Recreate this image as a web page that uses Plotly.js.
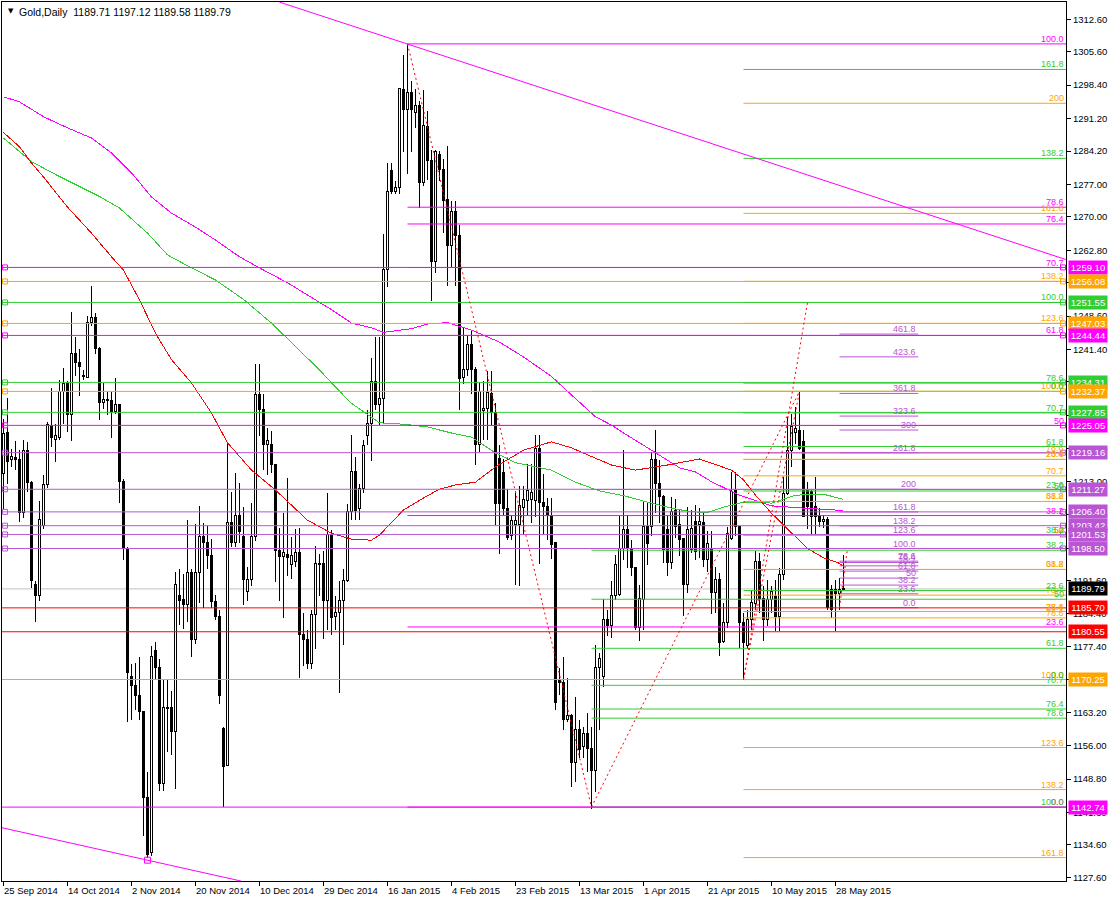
<!DOCTYPE html>
<html><head><meta charset="utf-8">
<script src="https://cdn.plot.ly/plotly-3.0.1.min.js"></script>
<style>html,body{margin:0;padding:0;background:#fff;}#chart{width:1109px;height:899px;}
#chart .scatterlayer path.js-line, #chart .barlayer path{shape-rendering:crispEdges;}
</style>
</head><body><div id="chart"></div>
<script>
// ---------- DATA ----------
const openP = [
1214.7,1223.5,1217.6,1218.1,1217.7,1206.2,1219.7,1212.7,1190.7,1188.4,
1203.4,1212.3,1225.0,1222.0,1222.4,1232.4,1234.0,1227.5,1240.5,1238.5,
1235.8,1235.4,1247.2,1248.2,1241.7,1229.9,1230.6,1230.4,1228.0,1229.5,
1213.0,1198.4,1171.0,1168.9,1166.9,1163.3,1144.8,1132.9,1176.6,1172.9,
1147.9,1164.0,1164.2,1159.0,1188.4,1187.4,1186.4,1193.4,1178.8,1193.4,
1201.1,1199.7,1196.9,1187.0,1183.9,1159.6,1151.7,1204.0,1199.9,1205.6,
1201.1,1189.3,1191.9,1201.1,1231.6,1228.5,1221.0,1221.0,1216.6,1198.1,
1196.8,1197.3,1195.1,1195.7,1197.6,1179.9,1178.9,1173.6,1184.3,1195.3,
1195.2,1187.3,1201.5,1183.9,1184.6,1187.3,1191.7,1206.4,1215.1,1207.2,
1211.4,1222.8,1225.4,1234.6,1229.6,1230.9,1258.7,1280.0,1275.4,1276.4,
1297.4,1293.2,1296.8,1292.6,1294.0,1277.4,1289.4,1282.1,1260.3,1283.4,
1280.3,1273.7,1263.8,1271.1,1265.9,1235.4,1237.2,1242.5,1237.2,1220.9,
1228.2,1228.7,1232.0,1227.8,1217.8,1214.8,1207.2,1201.4,1203.6,1203.6,
1207.4,1208.8,1209.1,1208.8,1220.1,1208.5,1207.5,1205.7,1199.7,1170.2,
1169.7,1161.6,1162.6,1152.3,1159.4,1155.8,1158.6,1155.4,1150.6,1172.8,
1171.0,1183.3,1181.8,1188.3,1188.6,1198.6,1202.5,1198.2,1194.3,1181.4,
1187.5,1203.2,1203.2,1217.6,1212.6,1209.7,1202.5,1195.5,1206.8,1203.6,
1200.7,1190.7,1198.2,1204.3,1203.6,1204.0,1196.1,1198.2,1189.0,1191.8,
1178.5,1182.5,1200.7,1210.9,1203.2,1182.5,1177.5,1183.2,1186.6,1195.7,
1187.8,1183.2,1187.5,1188.2,1183.9,1192.9,1210.4,1219.7,1223.5,1224.0,
1221.5,1211.1,1210.8,1207.5,1205.4,1204.3,1204.8,1189.6,1189.6,1188.9,1189.71];
const highP = [
1226.5,1231.0,1220.0,1221.6,1219.8,1222.0,1221.4,1213.1,1191.6,1208.7,
1214.3,1225.7,1233.2,1225.3,1234.8,1237.4,1234.6,1249.4,1244.2,1241.5,
1236.9,1248.6,1255.0,1249.2,1241.9,1234.2,1232.3,1232.3,1235.3,1229.7,
1213.4,1198.8,1173.6,1173.8,1175.0,1163.5,1150.3,1177.4,1178.3,1174.6,
1170.2,1170.1,1167.7,1193.4,1194.1,1193.0,1204.6,1194.1,1203.8,1207.6,
1204.1,1203.4,1200.5,1188.4,1185.2,1160.0,1221.1,1210.7,1214.7,1212.7,
1207.4,1194.5,1208.3,1238.3,1238.3,1231.8,1224.5,1223.8,1216.8,1203.0,
1206.2,1213.6,1200.9,1202.8,1203.0,1184.6,1181.0,1185.2,1199.0,1197.3,
1198.0,1210.4,1202.5,1188.3,1191.5,1194.1,1208.1,1223.0,1218.3,1212.5,
1222.0,1228.3,1239.6,1244.0,1244.0,1266.3,1281.7,1281.7,1277.7,1297.8,
1305.0,1307.3,1299.2,1297.6,1295.0,1297.4,1292.9,1284.5,1284.4,1284.2,
1282.4,1285.2,1273.5,1273.5,1268.2,1246.1,1244.6,1245.6,1237.7,1234.3,
1234.6,1236.7,1236.7,1229.8,1220.9,1217.7,1211.4,1205.7,1210.4,1212.0,
1212.0,1216.7,1216.7,1223.0,1223.0,1214.6,1209.3,1209.3,1199.9,1172.7,
1175.1,1170.6,1162.8,1166.4,1161.6,1160.0,1163.0,1160.0,1177.7,1176.0,
1187.6,1185.3,1191.4,1197.2,1205.7,1219.7,1205.7,1200.4,1194.6,1190.7,
1208.6,1208.3,1219.4,1224.0,1217.6,1210.0,1205.7,1209.7,1209.1,1206.8,
1200.7,1207.5,1206.8,1207.9,1207.2,1206.1,1202.2,1202.2,1194.6,1193.2,
1186.8,1203.2,1215.0,1215.0,1203.2,1184.6,1185.3,1189.6,1197.9,1197.5,
1190.4,1191.8,1190.4,1191.8,1194.3,1213.9,1226.9,1227.6,1229.0,1232.37,
1224.0,1212.9,1211.1,1213.9,1207.2,1205.7,1205.4,1190.7,1191.8,1192.1,1197.12];
const lowP = [
1207.0,1212.3,1216.0,1215.5,1204.2,1205.0,1210.7,1189.9,1182.7,1187.2,
1202.6,1211.5,1220.4,1217.2,1222.0,1225.3,1223.7,1221.6,1235.8,1231.4,
1234.8,1235.2,1246.4,1240.4,1226.1,1228.5,1227.3,1222.4,1227.5,1208.3,
1196.1,1161.2,1161.6,1163.7,1161.6,1136.5,1131.7,1132.1,1170.4,1146.2,
1146.2,1154.7,1154.0,1146.6,1181.9,1181.1,1182.7,1175.0,1177.9,1186.8,
1185.6,1194.1,1185.6,1183.1,1165.0,1142.7,1151.5,1198.9,1198.9,1199.7,
1186.4,1187.2,1190.4,1200.1,1222.8,1215.5,1214.3,1214.7,1191.3,1187.2,
1183.5,1192.5,1192.0,1194.6,1170.5,1173.1,1172.6,1172.6,1176.8,1188.3,
1178.9,1181.0,1179.9,1181.0,1167.3,1177.8,1191.2,1204.7,1204.7,1204.6,
1210.4,1220.9,1217.4,1228.3,1225.1,1225.6,1254.8,1275.0,1275.0,1275.0,
1284.0,1279.2,1284.0,1289.2,1271.9,1276.6,1277.9,1251.9,1257.9,1277.7,
1266.6,1255.1,1259.3,1255.1,1228.3,1234.0,1235.6,1231.9,1216.5,1219.3,
1222.0,1222.0,1225.1,1203.6,1197.3,1205.7,1200.4,1200.4,1190.6,1190.4,
1201.5,1205.7,1204.1,1205.2,1195.2,1201.5,1200.4,1196.2,1163.6,1167.0,
1159.4,1161.1,1147.1,1148.1,1153.4,1153.4,1150.3,1142.4,1146.1,1159.4,
1168.6,1179.6,1179.3,1187.5,1188.2,1196.1,1194.3,1192.5,1181.0,1178.5,
1181.0,1195.0,1201.1,1206.1,1203.9,1195.4,1192.5,1194.0,1200.7,1196.8,
1183.9,1188.9,1197.5,1196.1,1196.4,1194.6,1193.4,1184.3,1184.6,1175.3,
1178.2,1181.4,1200.4,1201.1,1177.1,1170.25,1176.8,1181.0,1185.3,1184.6,
1178.5,1181.8,1184.6,1180.7,1180.7,1191.8,1210.0,1216.1,1221.1,1219.7,
1205.4,1202.7,1201.5,1201.5,1203.2,1202.9,1185.3,1183.6,1180.7,1185.3,1189.58];
const closeP = [
1223.3,1217.2,1218.4,1217.6,1206.2,1219.7,1212.7,1191.6,1188.4,1204.8,
1212.3,1225.3,1222.4,1222.8,1232.4,1234.0,1227.5,1240.5,1238.5,1237.7,
1235.6,1247.2,1248.2,1241.7,1229.9,1230.7,1230.4,1228.0,1229.5,1212.9,
1198.4,1171.8,1168.9,1166.9,1163.3,1144.8,1132.5,1175.2,1172.9,1147.9,
1164.2,1164.3,1159.0,1190.7,1187.2,1186.4,1193.4,1178.8,1193.4,1201.1,
1199.7,1196.9,1187.0,1183.9,1166.9,1151.5,1204.0,1199.9,1205.6,1202.2,
1191.9,1191.9,1201.1,1231.6,1228.5,1221.0,1221.8,1216.7,1198.1,1196.7,
1197.6,1196.5,1196.9,1197.6,1179.9,1178.9,1173.6,1184.3,1195.2,1195.1,
1187.3,1201.5,1183.6,1184.6,1187.3,1191.7,1206.4,1215.1,1206.7,1211.4,
1220.7,1225.4,1234.6,1229.6,1230.9,1258.7,1275.4,1275.4,1276.4,1297.6,
1293.2,1296.8,1293.2,1294.0,1277.4,1289.7,1282.1,1260.3,1284.2,1280.3,
1273.5,1263.8,1271.1,1265.9,1235.1,1237.2,1242.5,1237.2,1220.9,1232.3,
1228.7,1232.2,1227.8,1208.3,1208.3,1207.2,1200.9,1204.6,1204.6,1207.8,
1209.1,1210.9,1210.6,1220.1,1208.5,1207.5,1205.7,1199.4,1165.2,1169.6,
1161.6,1162.6,1152.3,1159.4,1155.1,1158.6,1155.4,1150.6,1172.8,1174.7,
1183.2,1181.8,1188.3,1195.0,1198.6,1202.5,1198.6,1194.3,1181.4,1187.8,
1203.2,1199.6,1217.6,1212.6,1209.7,1198.2,1195.5,1206.5,1203.2,1200.4,
1190.7,1202.7,1202.9,1197.9,1204.3,1196.1,1199.5,1189.0,1191.8,1178.2,
1182.5,1201.8,1210.8,1203.2,1182.5,1178.2,1183.2,1186.8,1195.7,1187.8,
1183.2,1187.5,1189.3,1183.9,1192.9,1210.4,1219.7,1224.7,1224.3,1220.1,
1205.4,1207.5,1205.4,1205.4,1204.3,1204.8,1185.7,1185.3,1188.9,1189.6,1189.79];

const dateTickIdx = [0,16,32,48,64,80,96,112,128,144,160,176,192,208];
const dateTickText = ['25 Sep 2014','14 Oct 2014','2 Nov 2014','20 Nov 2014','10 Dec 2014','29 Dec 2014',
  '16 Jan 2015','4 Feb 2015','23 Feb 2015','13 Mar 2015','1 Apr 2015','21 Apr 2015','10 May 2015','28 May 2015'];
const priceTicks = [1312.60,1305.60,1298.40,1291.20,1284.20,1277.00,1270.00,1262.80,1255.80,1248.60,1241.40,
  1234.40,1227.20,1220.00,1213.00,1205.80,1198.60,1191.60,1184.40,1177.40,1170.20,1163.20,1156.00,1148.80,
  1141.60,1134.60,1127.60];

// moving averages (bar index, value)
const redMaIdx = [0,4,7,10,16,22,27,30,34,38,42,47,52,56,62,68,76,82,87,92,94,100,105,109,113,118,123,130,137,142,146,152,158,166,174,182,185,188,192,197,201,205,209,210];
const redMaVal = [1288.2,1285.1,1281.6,1278.6,1272.1,1266.5,1261.4,1258.5,1252.1,1244.9,1239.2,1234.2,1227.7,1221.3,1215.4,1211.1,1204.6,1201.8,1200.5,1200.3,1201.4,1206.8,1209.4,1211.3,1212.2,1212.8,1216.1,1219.7,1221.5,1220.2,1218.7,1216.5,1215.4,1216.5,1217.8,1215.4,1213.3,1210.0,1206.1,1202.0,1198.5,1196.5,1195.3,1194.6];
const greenMaIdx = [0,7,14,24,29,36,41,47,53,60,67,74,79,83,87,92,94,100,106,112,117,123,128,137,143,149,155,161,167,172,176,180,185,192,198,205,210];
const greenMaVal = [1287.0,1281.9,1278.7,1274.4,1271.9,1266.5,1261.8,1259.0,1256.4,1252.2,1247.1,1241.3,1237.0,1233.3,1229.8,1226.8,1225.6,1225.3,1224.7,1223.4,1222.5,1219.1,1217.0,1215.4,1212.8,1210.9,1209.9,1208.5,1207.2,1206.4,1206.3,1207.4,1208.5,1208.3,1210.0,1210.2,1209.1];
const magMaIdx = [0,4,10,16,22,27,32,37,42,48,53,59,64,71,78,82,87,92,95,102,106,111,117,124,130,137,142,148,152,155,162,167,169,173,177,184,188,192,200,210];
const magMaVal = [1295.9,1294.8,1291.6,1289.2,1287.0,1283.8,1279.5,1274.3,1270.8,1267.8,1265.0,1261.4,1259.0,1255.8,1252.1,1250.0,1247.1,1246.1,1245.1,1245.9,1246.9,1247.2,1245.6,1243.0,1239.8,1235.6,1231.6,1226.9,1225.1,1223.4,1219.7,1216.9,1215.9,1215.0,1212.9,1210.0,1208.9,1207.7,1207.2,1206.7];

// full-width horizontal lines
const hlinePrices = [1259.10,1256.08,1251.55,1247.03,1244.44,1234.31,1232.37,1227.85,1225.05,1219.16,1211.27,1206.40,1203.42,1201.53,1198.50,1185.70,1180.55,1170.25,1142.74];
const hlineColors = ['#FF00FF','#FFA500','#32CD32','#FFA500','#FF00FF','#32CD32','#FFA500','#32CD32','#FF00FF','#BA55D3','#BA55D3','#BA55D3','#BA55D3','#BA55D3','#BA55D3','#FF0000','#FF0000','#FFA500','#FF00FF'];
const hlineHandles = [1,1,1,1,1,1,1,1,1,1,1,1,1,1,1,0,0,0,0];
const lastPrice = 1189.79;

// Fibonacci sets: level labels and prices
const fibMagStart = 101;
const fibMagLabels = ['100.0','78.6','76.4','70.7','61.8','50','38.2','23.6','0.0'];
const fibMagPrices = [1307.30,1272.08,1268.47,1259.08,1244.44,1225.02,1205.60,1181.58,1142.74];
const fibGreenDStart = 147;
const fibGreenDLabels = ['0.0','23.6','38.2','50','61.8','70.7','76.4','78.6','100.0'];
const fibGreenDPrices = [1232.37,1211.22,1198.13,1187.56,1176.98,1169.00,1163.89,1161.92,1142.74];
const fibOrangeAStart = 185;
const fibOrangeALabels = ['0.0','23.6','38.2','50','61.8','70.7','76.4','78.6','100.0','123.6','138.2','161.8','200'];
const fibOrangeAPrices = [1170.25,1184.91,1193.98,1201.31,1208.64,1214.17,1217.71,1219.08,1232.37,1247.03,1256.10,1270.76,1294.49];
const fibOrangeBStart = 185;
const fibOrangeBLabels = ['0.0','23.6','38.2','50','61.8','70.7','76.4','78.6','100.0','123.6','138.2','161.8'];
const fibOrangeBPrices = [1232.37,1217.71,1208.64,1201.31,1193.98,1188.45,1184.91,1183.54,1170.25,1155.59,1146.52,1131.86];
const fibGreenCStart = 185;
const fibGreenCLabels = ['0.0','23.6','38.2','50','61.8','70.7','78.6','100.0','138.2','161.8'];
const fibGreenCPrices = [1170.25,1189.44,1201.31,1210.90,1220.49,1227.73,1234.15,1251.55,1282.61,1301.79];
const fibOrchidStart = 209, fibOrchidEnd = 228.7;
const fibOrchidLabels = ['0.0','23.6','38.2','50','61.8','70.7','76.4','78.6','100.0','123.6','138.2','161.8','200','261.8','300','323.6','361.8','423.6','461.8'];
const fibOrchidPrices = [1185.73,1188.74,1190.61,1192.12,1193.62,1194.76,1195.49,1195.77,1198.50,1201.51,1203.38,1206.39,1211.27,1219.16,1224.04,1227.05,1231.93,1239.82,1244.73];

// fib anchor (red dashed) lines
const anchorIdx0 = [101,147,185,185,209];
const anchorVal0 = [1307.30,1142.74,1170.25,1170.25,1185.73];
const anchorIdx1 = [147,199,199,201,211];
const anchorVal1 = [1142.74,1232.37,1232.37,1251.55,1198.50];

// magenta trend lines
const trendTopIdx = [69.0,265.6], trendTopVal = [1316.3,1260.8];
const trendBotIdx = [-0.4,59.4], trendBotVal = [1138.3,1126.8];
const trendBotAnchorIdx = [36], trendBotAnchorVal = [1131.3];

// ---------- BUILD ----------
const FONT = 'Liberation Sans, Arial, sans-serif';
const X0 = -0.375, X1 = 265.625;
const C_MAG='#FF00FF', C_ORA='#FFA500', C_GRN='#32CD32', C_ORC='#BA55D3', C_RED='#FF0000';

const wx=[], wy=[];
const upX=[],upB=[],upH=[],dnX=[],dnB=[],dnH=[];
for (let i=0;i<openP.length;i++){
  const o=openP[i],h=highP[i],l=lowP[i],c=closeP[i];
  const lo=Math.min(o,c), hi=Math.max(o,c);
  const hgt=Math.max(hi-lo,0.04);
  if (c>=o){upX.push(i);upB.push(lo);upH.push(hgt);} else {dnX.push(i);dnB.push(lo);dnH.push(hgt);}
  if (h>hi){wx.push(i,i,null);wy.push(hi,h,null);}
  if (l<lo){wx.push(i,i,null);wy.push(l,lo,null);}
}

const traces = [
  {type:'bar',x:upX,y:upH,base:upB,width:0.5,marker:{color:'#ffffff',line:{color:'#000',width:1}},hoverinfo:'skip'},
  {type:'bar',x:dnX,y:dnH,base:dnB,width:0.5,marker:{color:'#000000',line:{color:'#000',width:1}},hoverinfo:'skip'},
  {type:'scatter',mode:'lines',x:wx,y:wy,line:{color:'#000',width:1},hoverinfo:'skip'},
  {type:'scatter',mode:'lines',x:magMaIdx,y:magMaVal,line:{color:C_MAG,width:1},hoverinfo:'skip'},
  {type:'scatter',mode:'lines',x:greenMaIdx,y:greenMaVal,line:{color:C_GRN,width:1},hoverinfo:'skip'},
  {type:'scatter',mode:'lines',x:redMaIdx,y:redMaVal,line:{color:C_RED,width:1},hoverinfo:'skip'}
];

const shapes=[];
function seg(x0,y0,x1,y1,color,dash,layer){
  shapes.push({type:'line',xref:'x',yref:'y',x0:x0,y0:y0,x1:x1,y1:y1,line:{color:color,width:1,dash:dash||'solid'},layer:layer||'above'});
}
seg(X0,lastPrice,X1,lastPrice,'#C0C0C0','solid','below');
function fibSet(start,end,prices,color){ prices.forEach(p=>seg(start,p,end,p,color)); }
fibSet(fibMagStart,X1,fibMagPrices,C_MAG);
fibSet(fibGreenDStart,X1,fibGreenDPrices,C_GRN);
fibSet(fibGreenCStart,X1,fibGreenCPrices,C_GRN);
fibSet(fibOrangeBStart,X1,fibOrangeBPrices,C_ORA);
fibSet(fibOrangeAStart,X1,fibOrangeAPrices,C_ORA);
fibSet(fibOrchidStart,fibOrchidEnd,fibOrchidPrices,C_ORC);
hlinePrices.forEach((p,k)=>seg(X0,p,X1,p,hlineColors[k]));
anchorIdx0.forEach((a,k)=>seg(a,anchorVal0[k],anchorIdx1[k],anchorVal1[k],C_RED,'2px,3px'));
seg(trendTopIdx[0],trendTopVal[0],trendTopIdx[1],trendTopVal[1],C_MAG);
seg(trendBotIdx[0],trendBotVal[0],trendBotIdx[1],trendBotVal[1],C_MAG);

const hx=[],hy=[],hc=[];
hlinePrices.forEach((p,k)=>{ if(hlineHandles[k]){ hx.push(0.375,264.875); hy.push(p,p); hc.push(hlineColors[k],hlineColors[k]); }});
traces.push({type:'scatter',mode:'markers',x:hx,y:hy,marker:{symbol:'square-open',size:5,color:hc,line:{width:1,color:hc}},hoverinfo:'skip',cliponaxis:false});
traces.push({type:'scatter',mode:'markers',x:trendBotAnchorIdx,y:trendBotAnchorVal,marker:{symbol:'square-open',size:6,color:C_MAG,line:{width:1,color:C_MAG}},hoverinfo:'skip'});

const ann=[];
function fibLabels(labels,prices,color,xref,x){
  labels.forEach((t,k)=>ann.push({xref:xref,x:x,xanchor:'right',xshift:-1,yref:'y',y:prices[k],yanchor:'bottom',yshift:-1,
    text:t,showarrow:false,borderpad:0,font:{family:FONT,size:9,color:color}}));
}
fibLabels(fibMagLabels,fibMagPrices,C_MAG,'paper',1);
fibLabels(fibOrangeBLabels,fibOrangeBPrices,C_ORA,'paper',1);
fibLabels(fibOrangeALabels,fibOrangeAPrices,C_ORA,'paper',1);
fibLabels(fibGreenCLabels,fibGreenCPrices,C_GRN,'paper',1);
fibLabels(fibGreenDLabels,fibGreenDPrices,C_GRN,'paper',1);
fibLabels(fibOrchidLabels,fibOrchidPrices,C_ORC,'x',fibOrchidEnd);

function box(p,color){
  ann.push({xref:'paper',x:1,xanchor:'left',xshift:2,yref:'y',y:p,yanchor:'middle',text:p.toFixed(2),showarrow:false,
    bgcolor:color,borderpad:0,width:38,height:13,align:'center',font:{family:FONT,size:9.5,color:'#fff'}});
}
hlinePrices.forEach((p,k)=>box(p,hlineColors[k]));
box(lastPrice,'#000000');

dateTickIdx.forEach((d,k)=>ann.push({xref:'x',x:d,xanchor:'left',xshift:-2,yref:'paper',y:0,yanchor:'top',yshift:-2,
  text:dateTickText[k],showarrow:false,font:{family:FONT,size:9.5,color:'#000'}}));
ann.push({xref:'paper',x:0,xanchor:'left',xshift:4,yref:'paper',y:1,yanchor:'top',yshift:-3,text:'▼',showarrow:false,font:{family:'DejaVu Sans',size:7,color:'#000'}});
ann.push({xref:'paper',x:0,xanchor:'left',xshift:15,yref:'paper',y:1,yanchor:'top',yshift:-2,text:'Gold,Daily  1189.71 1197.12 1189.58 1189.79',showarrow:false,font:{family:FONT,size:10.5,color:'#000'}});

const layout = {
  width:1109,height:899,margin:{l:2,r:43,t:2,b:18,pad:0},
  paper_bgcolor:'#fff',plot_bgcolor:'#fff',showlegend:false,barmode:'overlay',
  xaxis:{range:[X0,X1],showgrid:false,zeroline:false,showline:true,mirror:true,linecolor:'#000',linewidth:1,
    tickvals:dateTickIdx,ticktext:dateTickIdx.map(()=>''),ticks:'outside',ticklen:4,tickcolor:'#000',fixedrange:true},
  yaxis:{side:'right',range:[1126.81,1316.33],showgrid:false,zeroline:false,showline:true,mirror:true,linecolor:'#000',linewidth:1,
    tickvals:priceTicks,ticktext:priceTicks.map(v=>v.toFixed(2)),ticks:'outside',ticklen:4,tickcolor:'#000',
    tickfont:{family:FONT,size:9.5,color:'#000'},fixedrange:true},
  shapes:shapes,annotations:ann
};
Plotly.newPlot('chart',traces,layout,{staticPlot:true});
</script></body></html>
